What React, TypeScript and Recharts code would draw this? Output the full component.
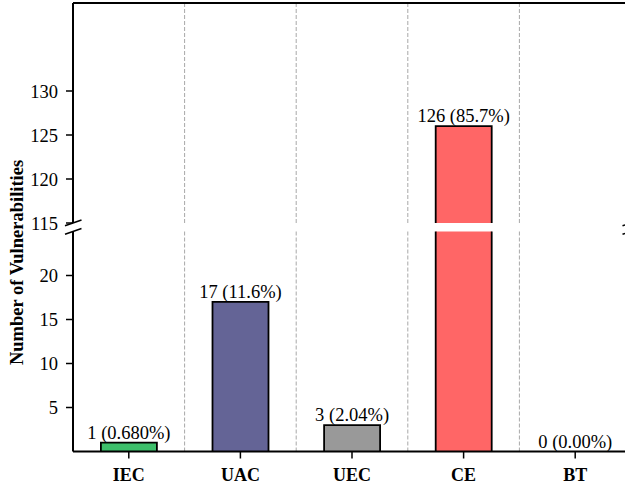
import { BarChart, Bar, XAxis, YAxis, ReferenceLine, LabelList } from "recharts"

const categories = ["IEC", "UAC", "UEC", "CE", "BT"]
const counts = [1, 17, 3, 126, 0]
const barColors = ["#3dbf6b", "#646496", "#999999", "#ff6666", "#5b8fd6"]

const topTicks = [115, 120, 125, 130]
const bottomTicks = [5, 10, 15, 20]
const TOP_DOMAIN: [number, number] = [115, 140]
const BOTTOM_DOMAIN: [number, number] = [0, 25]

const total = counts.reduce((a, b) => a + b, 0)

const rows = categories.map((name, i) => ({
  name,
  count: counts[i],
  fill: barColors[i],
  share: ((counts[i] / total) * 100).toPrecision(3) + "%",
}))

const FONT = '"Liberation Serif", "Times New Roman", serif'
const W = 631

// bar body with its outline open at the bottom (the axis or the break sits there)
function OpenBar(props: any) {
  const { x, y, width, height, payload, minValue } = props
  if (minValue !== undefined && payload.count < minValue) return null
  if (!height) return null
  const top = Math.min(y, y + height)
  const bottom = Math.max(y, y + height)
  return (
    <g>
      <rect x={x} y={top} width={width} height={bottom - top} fill={payload.fill} />
      <path
        d={`M${x},${bottom}V${top}H${x + width}V${bottom}`}
        fill="none"
        stroke="#000"
        strokeWidth={1.8}
      />
    </g>
  )
}

function valueLabel(p: any, keep: (v: number) => boolean) {
  const row = rows[p.index]
  if (!row || !keep(row.count)) return null
  const x = Number(p.x)
  const y = Number(p.y)
  const h = Number(p.height) || 0
  const top = Math.min(y, y + h)
  return (
    <text
      x={x + Number(p.width) / 2}
      y={top - 4}
      textAnchor="middle"
      fontFamily={FONT}
      fontSize={18.5}
      fill="#000"
    >
      {`${row.count} (${row.share})`}
    </text>
  )
}

const dividers = categories.slice(1).map((c) => (
  <ReferenceLine
    key={c}
    x={c}
    position="start"
    stroke="#a8a8a8"
    strokeWidth={1}
    strokeDasharray="4 2"
  />
))

const yTick = { fontFamily: FONT, fontSize: 18.5, fill: "#000" }
const axisLine = { stroke: "#000", strokeWidth: 2 }
const tickLine = { stroke: "#000", strokeWidth: 1.5 }

export default function App() {
  return (
    <div style={{ position: "relative", width: 625, height: 488, overflow: "hidden", background: "#fff" }}>
      <style>{`body{margin:0}`}</style>

      {/* upper panel: 115 - 140 */}
      <div style={{ position: "absolute", left: 0, top: 0 }}>
        <BarChart
          width={W}
          height={240}
          data={rows}
          margin={{ top: 3, right: 0, bottom: 17, left: 0 }}
          barCategoryGap="25%"
        >
          <XAxis dataKey="name" hide />
          <YAxis
            type="number"
            width={73}
            domain={TOP_DOMAIN}
            ticks={topTicks}
            allowDataOverflow
            tickSize={7}
            tickMargin={8}
            tick={yTick}
            axisLine={axisLine}
            tickLine={tickLine}
          />
          {dividers}
          {/* top spine */}
          <ReferenceLine y={TOP_DOMAIN[1]} stroke="#000" strokeWidth={2} ifOverflow="visible" />
          <Bar
            dataKey="count"
            isAnimationActive={false}
            shape={(p: any) => <OpenBar {...p} minValue={TOP_DOMAIN[0]} />}
          >
            <LabelList dataKey="count" content={(p: any) => valueLabel(p, (v) => v > TOP_DOMAIN[0])} />
          </Bar>
        </BarChart>
      </div>

      {/* lower panel: 0 - 25 */}
      <div style={{ position: "absolute", left: 0, top: 0 }}>
        <BarChart
          width={W}
          height={488}
          data={rows}
          margin={{ top: 231.5, right: 0, bottom: 0, left: 0 }}
          barCategoryGap="25%"
        >
          <XAxis
            dataKey="name"
            height={36.5}
            tickSize={7}
            tickMargin={10}
            tick={{ fontFamily: FONT, fontSize: 18, fontWeight: "bold", fill: "#000" }}
            axisLine={axisLine}
            tickLine={tickLine}
          />
          <YAxis
            type="number"
            width={73}
            domain={BOTTOM_DOMAIN}
            ticks={bottomTicks}
            allowDataOverflow
            tickSize={7}
            tickMargin={8}
            tick={yTick}
            axisLine={axisLine}
            tickLine={tickLine}
          />
          {dividers}
          <Bar dataKey="count" isAnimationActive={false} shape={(p: any) => <OpenBar {...p} />}>
            <LabelList dataKey="count" content={(p: any) => valueLabel(p, (v) => v < BOTTOM_DOMAIN[1])} />
          </Bar>
        </BarChart>
      </div>

      {/* axis break marks and the shared y label */}
      <svg width={625} height={488} style={{ position: "absolute", left: 0, top: 0, pointerEvents: "none" }}>
        <g stroke="#000" strokeWidth={1.5}>
          <line x1={65} y1={225.8} x2={81.5} y2={220} />
          <line x1={65} y1={234.3} x2={81.5} y2={228.5} />
          <line x1={622.5} y1={225.8} x2={639} y2={220} />
          <line x1={622.5} y1={234.3} x2={639} y2={228.5} />
        </g>
        <text
          x={22.5}
          y={262.5}
          transform="rotate(-90 22.5 262.5)"
          textAnchor="middle"
          fontFamily={FONT}
          fontSize={18.5}
          fontWeight="bold"
          fill="#000"
        >
          Number of Vulnerabilities
        </text>
      </svg>
    </div>
  )
}
